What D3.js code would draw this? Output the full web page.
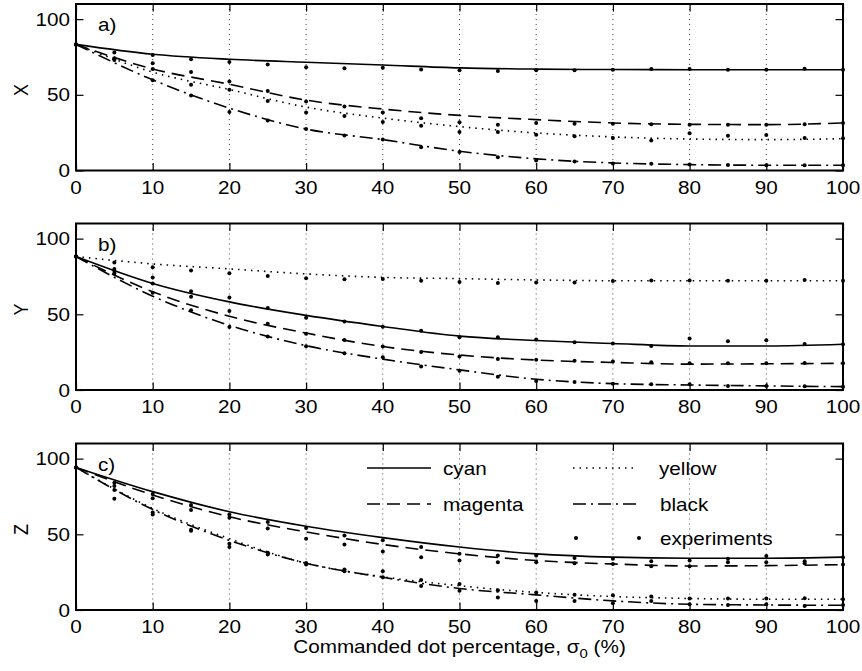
<!DOCTYPE html>
<html>
<head>
<meta charset="utf-8">
<script src="https://cdn.jsdelivr.net/npm/d3@7"></script>
<style>
  body { margin: 0; background: #fff; }
  svg { display: block; }
  text { font-family: "Liberation Sans", Arial, Helvetica, sans-serif; font-size: 18px; fill: #000; }
</style>
</head>
<body>
<svg id="chart" width="862" height="671"></svg>
<script>
// Commanded dot percentage for the model curves and for the measured points
const sigmaModel = [0, 10, 20, 30, 40, 50, 60, 70, 80, 90, 100];
const sigmaExp = [0, 5, 10, 15, 20, 25, 30, 35, 40, 45, 50, 55, 60, 65, 70, 75, 80, 85, 90, 95, 100];
const xTicks = [0, 10, 20, 30, 40, 50, 60, 70, 80, 90, 100];
const yTicks = [0, 50, 100];
const gridLines = [10, 20, 30, 40, 50, 60, 70, 80, 90];

const inks = ["cyan", "magenta", "yellow", "black"];
const panelNames = ["X", "Y", "Z"];
const panelTags = ["a)", "b)", "c)"];

// Panel a) X — model
const cyanX    = [83.3, 76.8, 73.5, 71.5, 69.7, 67.8, 67.0, 66.7, 66.6, 66.6, 66.6];
const magentaX = [83.3, 67.1, 57.0, 46.5, 40.6, 36.4, 33.6, 31.4, 30.5, 30.3, 31.4];
const yellowX  = [83.3, 65.0, 53.5, 41.9, 34.6, 29.0, 24.8, 22.2, 20.8, 20.4, 21.0];
const blackX   = [83.3, 59.9, 41.2, 27.4, 20.4, 12.7, 7.7, 5.0, 3.9, 3.5, 3.5];
// Panel a) X — experiments
const expCyanX    = [83.3, 78.0, 76.3, 73.5, 71.7, 70.0, 68.2, 67.5, 67.9, 66.7, 66.2, 65.8, 66.2, 66.2, 66.6, 67.1, 67.1, 66.6, 66.6, 67.3, 66.6];
const expMagentaX = [83.3, 74.1, 70.8, 65.1, 58.8, 52.5, 45.6, 42.3, 38.4, 34.6, 31.8, 30.3, 31.4, 30.9, 30.9, 30.5, 30.3, 30.3, 30.3, 30.5, 31.4];
const expYellowX  = [83.3, 73.6, 67.1, 56.6, 53.3, 45.9, 38.3, 36.0, 32.0, 29.6, 25.4, 25.4, 23.7, 22.6, 21.5, 19.9, 24.6, 23.0, 23.5, 21.5, 21.3];
const expBlackX   = [83.3, 73.0, 59.6, 49.5, 38.6, 33.1, 27.4, 23.2, 20.4, 15.4, 12.3, 8.8, 6.6, 5.9, 4.6, 4.4, 3.9, 3.7, 3.5, 3.5, 3.5];

// Panel b) Y — model
const cyanY    = [88.2, 70.4, 58.2, 49.3, 42.0, 35.6, 32.7, 30.7, 29.1, 29.1, 30.2];
const magentaY = [88.2, 64.9, 48.7, 37.6, 28.7, 23.1, 19.8, 18.2, 17.1, 17.3, 17.6];
const yellowY  = [88.2, 83.3, 80.0, 76.7, 74.4, 73.6, 72.7, 72.2, 72.2, 72.2, 72.2];
const blackY   = [88.2, 62.0, 42.7, 29.3, 20.4, 13.3, 7.1, 4.2, 3.3, 2.7, 2.2];
// Panel b) Y — experiments
const expCyanY    = [88.2, 80.0, 74.4, 65.3, 61.1, 54.2, 47.8, 45.3, 41.8, 39.1, 34.9, 34.9, 33.3, 31.6, 30.7, 29.1, 34.0, 32.2, 32.9, 30.4, 30.2];
const expMagentaY = [88.2, 78.7, 70.4, 61.6, 52.2, 43.8, 37.1, 33.1, 28.7, 25.1, 22.2, 20.4, 20.0, 19.3, 18.9, 18.4, 17.6, 17.6, 17.6, 17.8, 17.6];
const expYellowY  = [88.2, 84.2, 81.1, 78.9, 77.1, 75.3, 73.8, 73.1, 73.3, 72.2, 71.3, 70.7, 71.1, 71.1, 72.0, 72.4, 72.4, 72.2, 72.2, 72.7, 72.2];
const expBlackY   = [88.2, 77.0, 64.2, 52.7, 41.6, 35.3, 28.9, 24.2, 21.6, 15.6, 12.7, 8.7, 6.0, 5.3, 4.2, 3.8, 3.8, 2.7, 2.7, 2.4, 2.2];

// Panel c) Z — model
const cyanZ    = [94.2, 78.2, 64.9, 55.3, 47.8, 41.6, 37.1, 34.9, 34.2, 34.2, 34.9];
const magentaZ = [94.2, 76.0, 61.6, 51.6, 43.3, 37.1, 32.7, 30.4, 29.1, 29.3, 30.0];
const yellowZ  = [94.2, 67.1, 47.1, 30.9, 22.0, 16.0, 11.6, 8.9, 7.6, 7.1, 7.1];
const blackZ   = [94.2, 66.4, 46.0, 30.9, 21.6, 14.2, 10.0, 6.0, 3.8, 3.3, 3.1];
// Panel c) Z — experiments
const expCyanZ    = [94.2, 84.0, 76.7, 69.3, 63.1, 58.2, 54.2, 49.3, 46.0, 41.6, 37.1, 36.0, 36.0, 34.4, 33.8, 32.2, 32.7, 33.8, 35.6, 32.2, 34.9];
const expMagentaZ = [94.2, 82.0, 73.8, 66.0, 60.9, 53.8, 47.1, 43.3, 38.7, 34.9, 32.7, 31.6, 31.6, 30.9, 30.4, 28.9, 28.9, 31.6, 31.6, 30.9, 30.0];
const expYellowZ  = [94.2, 79.3, 64.4, 53.0, 43.8, 37.8, 31.1, 26.7, 25.6, 19.8, 17.1, 13.1, 11.6, 10.0, 9.8, 8.9, 7.6, 7.6, 7.6, 7.8, 7.1];
const expBlackZ   = [94.2, 73.5, 63.1, 52.4, 41.6, 36.7, 30.0, 25.6, 21.6, 15.8, 12.7, 8.2, 6.0, 6.0, 4.4, 6.0, 3.8, 3.3, 3.8, 2.7, 3.3];

const models = [
  [cyanX, magentaX, yellowX, blackX],
  [cyanY, magentaY, yellowY, blackY],
  [cyanZ, magentaZ, yellowZ, blackZ]
];
const experiments = [
  [expCyanX, expMagentaX, expYellowX, expBlackX],
  [expCyanY, expMagentaY, expYellowY, expBlackY],
  [expCyanZ, expMagentaZ, expYellowZ, expBlackZ]
];

// line style per ink
const dashes = { cyan: null, magenta: "13,7", yellow: "1.5,5", black: "13,5,2,5" };

const svg = d3.select("#chart");
const left = 76, right = 843;
const panelTops = [4, 223.5, 443.5];
const panelH = 166.5;
const tickLen = 7.5;
const stretch = 1.15;

const x = d3.scaleLinear().domain([0, 100]).range([left, right]);

function label(g, px, py, s, anchor) {
  return g.append("text")
    .attr("transform", `translate(${px},${py}) scale(${stretch},1)`)
    .attr("text-anchor", anchor || "start")
    .text(s);
}

panelNames.forEach((name, p) => {
  const top = panelTops[p], bottom = top + panelH;
  const y = d3.scaleLinear().domain([0, 110]).range([bottom, top]);
  const g = svg.append("g");

  // vertical dotted grid
  g.selectAll("line.grid").data(gridLines).join("line")
    .attr("x1", d => x(d)).attr("x2", d => x(d))
    .attr("y1", top).attr("y2", bottom)
    .attr("stroke", "#444").attr("stroke-width", 1)
    .attr("stroke-dasharray", "1,4");

  const line = d3.line()
    .x((d, i) => x(sigmaModel[i]))
    .y(d => y(d))
    .curve(d3.curveMonotoneX);

  // model curves
  inks.forEach((ink, k) => {
    g.append("path")
      .datum(models[p][k])
      .attr("d", line)
      .attr("fill", "none")
      .attr("stroke", "#000")
      .attr("stroke-width", 1.6)
      .attr("stroke-dasharray", dashes[ink]);
  });

  // measured points
  inks.forEach((ink, k) => {
    g.selectAll(null).data(experiments[p][k]).join("circle")
      .attr("cx", (d, i) => x(sigmaExp[i]))
      .attr("cy", d => y(d))
      .attr("r", 2)
      .attr("fill", "#000");
  });

  // axes box with ticks on all four sides
  g.append("rect")
    .attr("x", left).attr("y", top)
    .attr("width", right - left).attr("height", panelH)
    .attr("fill", "none").attr("stroke", "#000").attr("stroke-width", 2);

  const bottomAxis = d3.axisBottom(x).tickValues(xTicks).tickSize(-tickLen).tickFormat("");
  const topAxis = d3.axisTop(x).tickValues(xTicks).tickSize(-tickLen).tickFormat("");
  const leftAxis = d3.axisLeft(y).tickValues(yTicks).tickSize(-tickLen).tickFormat("");
  const rightAxis = d3.axisRight(y).tickValues(yTicks).tickSize(-tickLen).tickFormat("");
  [[bottomAxis, `translate(0,${bottom})`], [topAxis, `translate(0,${top})`],
   [leftAxis, `translate(${left},0)`], [rightAxis, `translate(${right},0)`]].forEach(([ax, tr]) => {
    const a = g.append("g").attr("transform", tr).call(ax);
    a.select(".domain").remove();
    a.selectAll(".tick line").attr("stroke", "#000").attr("stroke-width", 1.2);
  });

  // tick labels
  xTicks.forEach(t => label(g, x(t), bottom + 23, String(t), "middle"));
  yTicks.forEach(t => label(g, 70, y(t) + 6.5, String(t), "end"));

  // panel tag
  label(g, 98, top + 27, panelTags[p], "start");

  // axis name, rotated
  g.append("text")
    .attr("transform", `translate(28,${top + 86}) scale(${stretch},1) rotate(-90)`)
    .attr("text-anchor", "middle")
    .text(name);
});

// x axis title
const title = svg.append("text")
  .attr("transform", `translate(${(left + right) / 2},653) scale(${stretch},1)`)
  .attr("text-anchor", "middle");
title.append("tspan").text("Commanded dot percentage, σ");
title.append("tspan").attr("dy", 5).style("font-size", "13px").text("0");
title.append("tspan").attr("dy", -5).text(" (%)");

// legend in panel c
const legendItems = [
  { ink: "cyan", x0: 367, x1: 431, tx: 443, y: 468 },
  { ink: "magenta", x0: 367, x1: 431, tx: 443, y: 504 },
  { ink: "yellow", x0: 573, x1: 637, tx: 659, y: 468 },
  { ink: "black", x0: 573, x1: 637, tx: 660, y: 504 }
];
const lg = svg.append("g");
legendItems.forEach(it => {
  lg.append("line")
    .attr("x1", it.x0).attr("x2", it.x1).attr("y1", it.y).attr("y2", it.y)
    .attr("stroke", "#000").attr("stroke-width", 1.6)
    .attr("stroke-dasharray", dashes[it.ink]);
  label(lg, it.tx, it.y + 6.5, it.ink, "start");
});
lg.selectAll(null).data([576, 639]).join("circle")
  .attr("cx", d => d).attr("cy", 538).attr("r", 2).attr("fill", "#000");
label(lg, 660, 544.5, "experiments", "start");
</script>
</body>
</html>
